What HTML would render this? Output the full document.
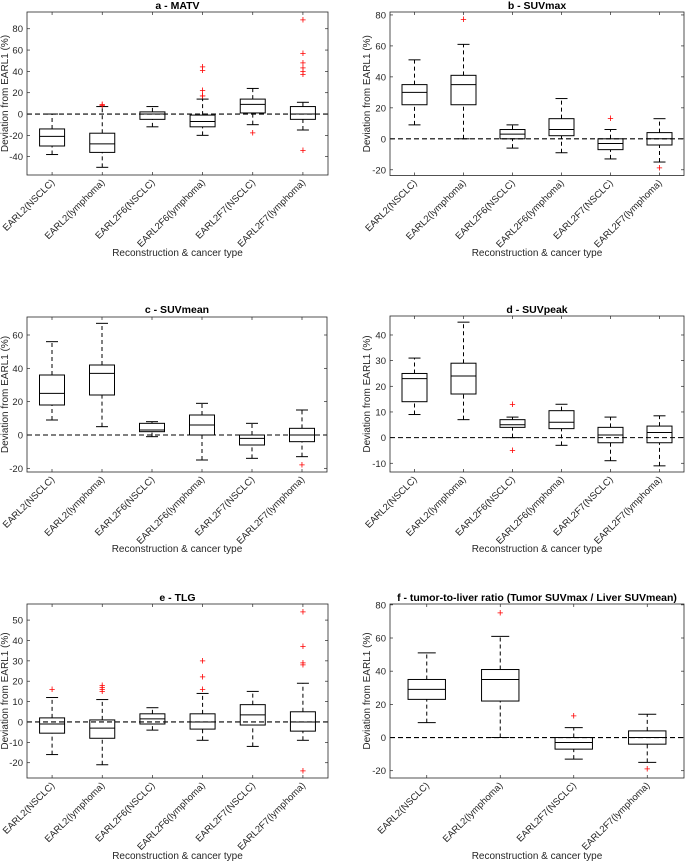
<!DOCTYPE html>
<html><head><meta charset="utf-8">
<style>
html,body{margin:0;padding:0;background:#fff;}
svg{display:block;font-family:"Liberation Sans",Arial,sans-serif;}
</style></head>
<body>
<svg id="fig" width="685" height="861" viewBox="0 0 685 861" xmlns="http://www.w3.org/2000/svg"></svg>
<script>
const catsFull = ["EARL2(NSCLC)","EARL2(lymphoma)","EARL2F6(NSCLC)","EARL2F6(lymphoma)","EARL2F7(NSCLC)","EARL2F7(lymphoma)"];
const catsF = ["EARL2(NSCLC)","EARL2(lymphoma)","EARL2F7(NSCLC)","EARL2F7(lymphoma)"];
// [lowWhisker, q1, median, q3, highWhisker]
const statsA = [[-38,-30,-21,-14,0],[-50,-36,-28,-18,7],[-12,-5,0,2,7],[-20,-12,-7,-1,14],[-10,1,9,14,24],[-15,-5,0,7,11]];
const outA = [[],[8,9],[],[17,17,22,41,44],[-18],[37,40,43,48,57,88,-34]];
const statsB = [[9,22,30,35,51],[0,22,35,41,61],[-6,0,3,6,9],[-9,2,6,13,26],[-13,-7,-3,0,6],[-15,-4,0,4,13]];
const outB = [[],[77],[],[],[13],[-19]];
const statsC = [[9,18,25,36,56],[5,24,37,42,67],[-1,2,3,7,8],[-15,0,6,12,19],[-14,-6,-2,0,7],[-13,-4,0,4,15]];
const outC = [[],[],[],[],[],[-18]];
const statsD = [[9,14,23,25,31],[7,17,24,29,45],[0,4,5,7,8],[-3,3.5,6,10.5,13],[-9,-2,1,4,8],[-11,-2,2,4.5,8.5]];
const outD = [[],[],[13,-5],[],[],[]];
const statsE = [[-16,-5.5,-1,2,12],[-21,-8,-3,1,11],[-4,-1,1.5,4,7],[-9,-3.5,0,4,14],[-12,-1.5,3.5,8.5,15],[-9,-4.5,0,5,19]];
const outE = [[16],[15,16,17,18],[],[16,22,30],[],[28,29,37,54,-24]];
const statsF = [[9,23,29,35,51],[0,22,35,41,61],[-13,-7,-3,0,6],[-15,-4,0,4,14]];
const outF = [[],[75],[13],[-19]];
const ticksA = [-40,-20,0,20,40,60,80];
const ticksB = [-20,0,20,40,60,80];
const ticksC = [-20,0,20,40,60];
const ticksD = [-10,0,10,20,30,40];
const ticksE = [-20,-10,0,10,20,30,40,50];
const ticksF = [-20,0,20,40,60,80];

const NS="http://www.w3.org/2000/svg";
const svg=document.getElementById('fig');
function mk(tag,attrs,parent){const e=document.createElementNS(NS,tag);for(const k in attrs)e.setAttribute(k,attrs[k]);(parent||svg).appendChild(e);return e;}

function panel(p){
  const g=mk('g',{});
  
  
  const {x0,x1,y0,y1,ymin,ymax}=p;
  const Y=v=>y1-(v-ymin)/(ymax-ymin)*(y1-y0);
  const n=p.cats.length, step=(x1-x0)/n;
  const X=i=>x0+step*(i+0.5);
  const hw=n===6?12.5:18.7, cw=n===6?6:9;
  // title
  const t=mk('text',{x:(x0+x1)/2,y:p.ty,'text-anchor':'middle','font-size':'10.5','font-weight':'bold',fill:'#000'},g);
  t.textContent=p.title;
  
  
  // y ticks
  p.ticks.forEach(v=>{
    const y=Y(v);
    mk('line',{x1:x0,x2:x0+3,y1:y,y2:y,stroke:'#262626','stroke-width':0.7},g);
    mk('line',{x1:x1,x2:x1-3,y1:y,y2:y,stroke:'#262626','stroke-width':0.7},g);
    const tl=mk('text',{x:x0-4,y:y+3.5,'text-anchor':'end','font-size':'9.5',fill:'#262626'},g);
    tl.textContent=v;
    
    
  });
  // zero line
  const z=mk('line',{x1:x0,x2:x1,y1:Y(0),y2:Y(0),stroke:'#000','stroke-width':1.1,'stroke-dasharray':'5,3'},g);
  
  
  // boxes
  p.cats.forEach((c,i)=>{
    const cx=X(i), s=p.stats[i];
    mk('line',{x1:cx,x2:cx,y1:y1,y2:y1-3,stroke:'#262626','stroke-width':0.7},g);
    mk('line',{x1:cx,x2:cx,y1:y0,y2:y0+3,stroke:'#262626','stroke-width':0.7},g);
    const bg=mk('g',{},g);
    
    
    mk('line',{x1:cx,x2:cx,y1:Y(s[0]),y2:Y(s[1]),stroke:'#000','stroke-width':1,'stroke-dasharray':'4,3'},bg);
    mk('line',{x1:cx,x2:cx,y1:Y(s[3]),y2:Y(s[4]),stroke:'#000','stroke-width':1,'stroke-dasharray':'4,3'},bg);
    mk('line',{x1:cx-cw,x2:cx+cw,y1:Y(s[0]),y2:Y(s[0]),stroke:'#000','stroke-width':1},bg);
    mk('line',{x1:cx-cw,x2:cx+cw,y1:Y(s[4]),y2:Y(s[4]),stroke:'#000','stroke-width':1},bg);
    mk('rect',{x:cx-hw,y:Y(s[3]),width:2*hw,height:Math.max(0.5,Y(s[1])-Y(s[3])),fill:'none',stroke:'#000','stroke-width':1},bg);
    mk('line',{x1:cx-hw,x2:cx+hw,y1:Y(s[2]),y2:Y(s[2]),stroke:'#000','stroke-width':1},bg);
    p.out[i].forEach(v=>{
      const o=mk('text',{x:cx,y:Y(v)+3.5,'text-anchor':'middle','font-size':'11',fill:'#ff0000'},bg);
      o.textContent='+';
      
      
    });
    const lx=cx+3, ly=y1+8;
    const xl=mk('text',{x:lx,y:ly,'text-anchor':'end','font-size':'9.5',fill:'#262626',transform:`rotate(-45 ${lx} ${ly})`},g);
    xl.textContent=c;
    
    
  });
  mk('rect',{x:x0,y:y0,width:x1-x0,height:y1-y0,fill:'none',stroke:'#262626','stroke-width':0.8},g);
  const yl=mk('text',{x:p.ylx,y:(y0+y1)/2,'text-anchor':'middle','font-size':'10',fill:'#262626',transform:`rotate(-90 ${p.ylx} ${(y0+y1)/2})`},g);
  yl.textContent='Deviation from EARL1 (%)';
  
  
  const xt=mk('text',{x:(x0+x1)/2,y:p.xty,'text-anchor':'middle','font-size':'10',fill:'#262626'},g);
  xt.textContent='Reconstruction & cancer type';
  
  
}

panel({name:'panel-a-matv',title:'a - MATV',cats:catsFull,stats:statsA,out:outA,ticks:ticksA,x0:27,x1:328,y0:12,y1:175,ymin:-57.2,ymax:95.7,ty:9,ylx:8,xty:256});
panel({name:'panel-b-suvmax',title:'b - SUVmax',cats:catsFull,stats:statsB,out:outB,ticks:ticksB,x0:390,x1:684,y0:12,y1:175.5,ymin:-23.7,ymax:81.9,ty:9,ylx:370,xty:256});
panel({name:'panel-c-suvmean',title:'c - SUVmean',cats:catsFull,stats:statsC,out:outC,ticks:ticksC,x0:27,x1:327,y0:317,y1:472,ymin:-22.2,ymax:70.8,ty:313,ylx:8,xty:552});
panel({name:'panel-d-suvpeak',title:'d - SUVpeak',cats:catsFull,stats:statsD,out:outD,ticks:ticksD,x0:390,x1:684,y0:316,y1:472,ymin:-13.4,ymax:47.4,ty:313,ylx:370,xty:552});
panel({name:'panel-e-tlg',title:'e - TLG',cats:catsFull,stats:statsE,out:outE,ticks:ticksE,x0:27,x1:328,y0:604,y1:778,ymin:-27.5,ymax:57.9,ty:601,ylx:8,xty:859});
panel({name:'panel-f-tumor-to-liver',title:'f - tumor-to-liver ratio (Tumor SUVmax / Liver SUVmean)',cats:catsF,stats:statsF,out:outF,ticks:ticksF,x0:390,x1:684,y0:604,y1:778,ymin:-24.4,ymax:80.5,ty:601,ylx:370,xty:859});
</script>
</body></html>
